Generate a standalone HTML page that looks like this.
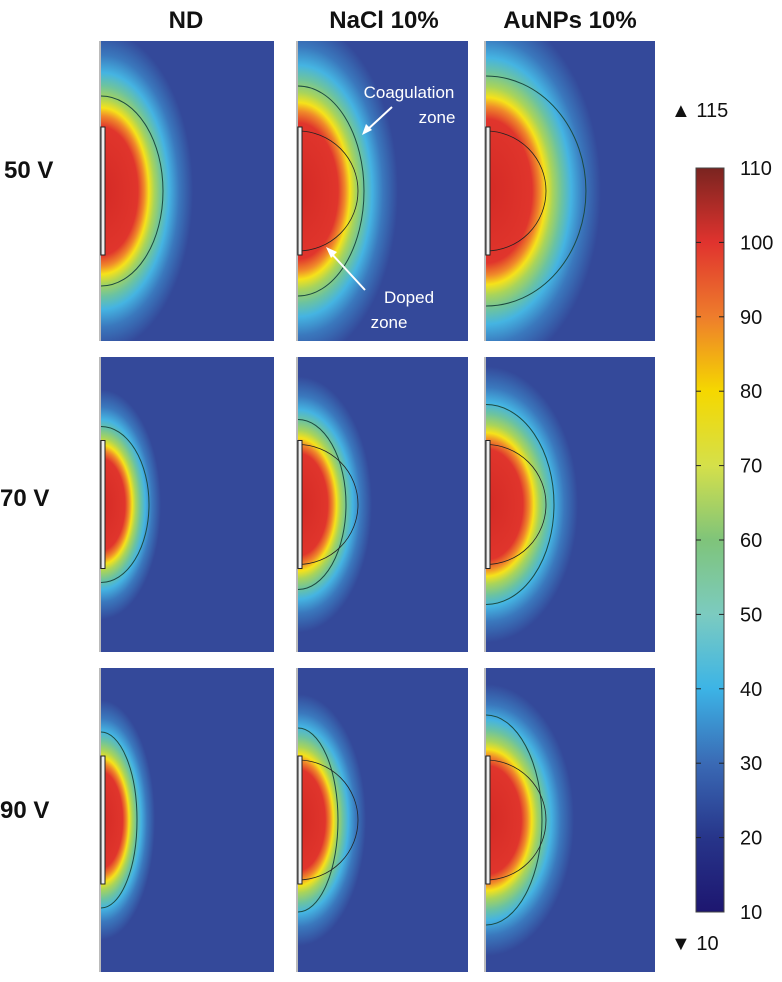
<!DOCTYPE html>
<html><head><meta charset="utf-8"><style>
body{margin:0;background:#fff;}
svg text{font-family:"Liberation Sans",Arial,sans-serif;}
</style></head><body>
<svg id="fig" width="782" height="977" viewBox="0 0 782 977">
<defs id="defs"></defs>
<g id="panels"></g>
<g font-weight="bold" font-size="24" text-anchor="middle" fill="#111">
<text x="186" y="28">ND</text>
<text x="384" y="28">NaCl 10%</text>
<text x="570" y="28">AuNPs 10%</text>
</g>
<g font-weight="bold" font-size="24" fill="#111">
<text x="4" y="178">50 V</text>
<text x="0" y="506">70 V</text>
<text x="0" y="818">90 V</text>
</g>
<g fill="#fff" font-size="17" text-anchor="middle">
<text x="409" y="98">Coagulation</text>
<text x="437" y="123">zone</text>
<line x1="392" y1="107" x2="366" y2="131" stroke="#fff" stroke-width="2"/>
<polygon points="362,135 366,124 372,130" fill="#fff"/>
<text x="409" y="303">Doped</text>
<text x="389" y="328">zone</text>
<line x1="365" y1="290" x2="330" y2="252" stroke="#fff" stroke-width="2"/>
<polygon points="326,247 337,252 331,258" fill="#fff"/>
</g>
<g id="colorbar"></g>
</svg>
<script>
const NS="http://www.w3.org/2000/svg";
// panel geometry + thermal extent
const panelX=[101,298,486];
const panelW=[173,170,169];
const panelY=[41,357,668];
const panelH=[300,295,304];
const hotRx=[[92,100,115],[60,74,92],[54,68,88]];
const hotRy=[[160,170,180],[115,128,138],[120,126,136]];
const contourRx=[[62,66,100],[48,48,68],[36,40,56]];
const contourRy=[[95,105,115],[78,85,100],[88,92,105]];
const dopedR=[0,60,60];
// colorbar
const cbTicks=[10,20,30,40,50,60,70,80,90,100,110];
const cbColors=["#1d1670","#27358a","#3a6ab5","#3cb4e6","#7ccbc0","#7fc47a","#d5e04a","#f5d800","#ee7d2c","#e0332e","#7a2420"];
const defs=document.getElementById('defs');
const pg=document.getElementById('panels');
function mk(t,a,p){const e=document.createElementNS(NS,t);for(const k in a)e.setAttribute(k,a[k]);p.appendChild(e);return e;}
const stops=[[0,"#d42a25"],[0.4,"#e0352c"],[0.47,"#f08a2a"],[0.52,"#f6e21a"],[0.58,"#a9d45a"],[0.66,"#6cc3a0"],[0.74,"#45b4e2"],[0.85,"#3a78bd"],[1,"#34499a"]];
for(let r=0;r<3;r++)for(let c=0;c<3;c++){
  const x=panelX[c],y=panelY[r],w=panelW[c],h=panelH[r];
  const cy=y+h/2,rx=hotRx[r][c],ry=hotRy[r][c];
  const id='g'+r+c;
  const g=mk('radialGradient',{id:id,gradientUnits:'userSpaceOnUse',cx:x,cy:cy,r:rx,gradientTransform:`translate(${x} ${cy}) scale(1 ${ry/rx}) translate(${-x} ${-cy})`},defs);
  stops.forEach(s=>mk('stop',{offset:s[0],'stop-color':s[1]},g));
  const grp=mk('g',{},pg);
  
  
  mk('rect',{x:x,y:y,width:w,height:h,fill:'#34499a'},grp);
  mk('rect',{x:x,y:y,width:w,height:h,fill:`url(#${id})`},grp);
  const cr=contourRx[r][c],cq=contourRy[r][c];
  const ct=mk('path',{d:`M${x} ${cy-cq} A${cr} ${cq} 0 0 1 ${x} ${cy+cq}`,fill:'none',stroke:'#1c4a40','stroke-width':1},grp);
  
  
  if(dopedR[c]){const d=dopedR[c];
    const dc=mk('path',{d:`M${x} ${cy-d} A${d} ${d} 0 0 1 ${x} ${cy+d}`,fill:'none',stroke:'#222','stroke-width':0.8},grp);
    
    }
  mk('rect',{x:x,y:cy-64,width:4,height:128,fill:'#eee',stroke:'#222','stroke-width':1},grp);
  mk('line',{x1:x-1,y1:y,x2:x-1,y2:y+h,stroke:'#777','stroke-width':1},grp);
}
// colorbar
const cb=document.getElementById('colorbar');
const cbTop=168,cbBot=912,cbX=696,cbW=28;
function cbY(v){return cbBot-(v-10)/(110-10)*(cbBot-cbTop);}
const lg=mk('linearGradient',{id:'cbg',x1:0,y1:1,x2:0,y2:0},defs);
cbTicks.forEach((t,i)=>mk('stop',{offset:(t-10)/100,'stop-color':cbColors[i]},lg));
const bar=mk('rect',{x:cbX,y:cbTop,width:cbW,height:cbBot-cbTop,fill:'url(#cbg)',stroke:'#444','stroke-width':1},cb);


cbTicks.forEach(t=>{const yy=cbY(t);
  if(t>10&&t<110){mk('line',{x1:cbX,y1:yy,x2:cbX+5,y2:yy,stroke:'#222'},cb);mk('line',{x1:cbX+cbW-5,y1:yy,x2:cbX+cbW,y2:yy,stroke:'#222'},cb);}
  const tx=mk('text',{x:740,y:yy+7,'font-size':20,fill:'#111'},cb);tx.textContent=t;
  
  
});
const mx=mk('text',{x:671,y:117,'font-size':20,fill:'#111'},cb);mx.textContent='\u25B2 115';


const mn=mk('text',{x:671,y:950,'font-size':20,fill:'#111'},cb);mn.textContent='\u25BC 10';


</script>
</body></html>
